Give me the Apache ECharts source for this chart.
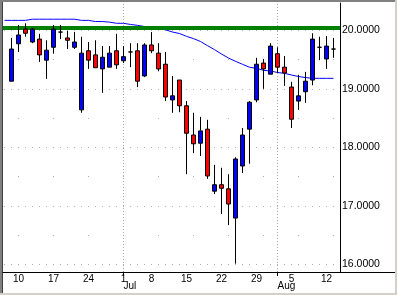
<!DOCTYPE html>
<html>
<head>
<meta charset="utf-8">
<script src="https://cdn.jsdelivr.net/npm/echarts@6/dist/echarts.min.js"></script>
<style>
html,body{margin:0;padding:0;background:#fff;}
#c{width:397px;height:295px;}
</style>
</head>
<body>
<div id="c"></div>
<script>
// Trading days (index 0 = Jun 7)
const dates = ['06-07','06-10','06-11','06-12','06-13','06-14','06-17','06-18','06-19','06-20','06-21',
  '06-24','06-25','06-26','06-27','06-28','07-01','07-02','07-03','07-05','07-08','07-09','07-10','07-11','07-12',
  '07-15','07-16','07-17','07-18','07-19','07-22','07-23','07-24','07-25','07-26','07-29','07-30','07-31','08-01','08-02',
  '08-05','08-06','08-07','08-08','08-09','08-12','08-13'];
const opens  = [19.13,19.77,20.02,19.80,19.85,19.49,19.71,19.97,19.87,19.71,18.64,19.65,19.58,19.34,19.37,19.65,19.48,19.63,19.65,19.22,19.75,19.61,19.42,18.81,19.15,18.71,18.21,18.07,18.31,17.25,17.36,17.29,16.79,17.68,18.31,18.81,19.44,19.25,19.60,19.37,19.03,18.79,18.95,19.15,19.71,19.51,19.68];
const closes = [19.68,19.92,19.95,20.02,19.58,19.66,20.02,19.97,19.83,19.80,19.61,19.49,19.36,19.54,19.61,19.41,19.55,19.63,19.13,19.75,19.65,19.34,18.86,18.88,18.71,18.24,18.06,18.28,17.51,17.36,17.30,17.03,17.80,18.21,18.77,19.42,19.34,19.73,19.37,19.27,18.48,18.88,19.13,19.85,19.71,19.73,19.68];
const lows   = [19.13,19.63,19.89,19.78,19.46,19.17,19.60,19.85,19.68,19.68,18.59,19.34,19.36,18.93,19.37,19.34,19.44,19.37,19.03,19.20,19.61,19.30,18.79,18.59,18.60,17.54,17.90,17.85,17.46,17.20,16.86,16.67,16.01,17.56,17.72,18.77,19.00,19.25,19.27,19.05,18.33,18.64,18.76,19.06,19.49,19.34,19.53];
const highs  = [19.87,20.09,20.12,20.04,19.94,19.83,20.09,20.09,19.99,19.97,19.89,19.80,19.83,19.73,19.73,19.94,19.73,19.78,19.78,19.78,19.97,19.78,19.63,19.22,19.15,18.79,18.59,18.52,18.47,17.70,17.65,17.54,17.83,18.33,18.79,19.53,19.51,19.78,19.71,19.56,19.12,19.24,19.29,19.95,19.89,19.90,19.87];
// Moving average, starting one day before the first candle (index -1)
const maStart = -1;
const maValues = [20.17,20.17,20.17,20.17,20.19,20.19,20.19,20.19,20.19,20.19,20.19,20.17,20.17,20.15,20.15,20.14,20.12,20.12,20.10,20.085,20.065,20.048,20.031,20.009,
  19.971,19.945,19.897,19.858,19.809,19.738,19.670,19.595,19.526,19.470,19.419,19.369,19.350,19.316,19.304,19.279,19.265,19.236,19.210,19.193,19.179,19.179,19.179,19.179];
// Horizontal resistance level
const resistance = 20.04;
// Axis labels
const dayTickIndex  = [1,6,11,16,20,25,30,35,40,45];
const dayTickLabels = ['10','17','24','1','8','15','22','29','5','12'];
const monthTickIndex = [16,38];
const monthLabels = ['Jul','Aug'];
const priceTicks = [16,17,18,19,20];
const halfTicks = [16.5,17.5,18.5,19.5];

const xMin = -1.2143, xMax = 46.929;
const yMin = 15.868, yMax = 20.467;

const chart = echarts.init(document.getElementById('c'), null, {renderer:'canvas'});
const candleData = dates.map((d,i)=>[i, opens[i], closes[i], lows[i], highs[i]]);
const maData = maValues.map((v,i)=>[i+maStart, v]);

const labelFont = {fontFamily:'Liberation Sans, Arial, sans-serif', color:'#000'};
chart.setOption({
  animation:false,
  backgroundColor:'#ffffff',
  grid:{left:3, right:57, top:3, bottom:23, containLabel:false},
  xAxis:[{
    type:'value', min:xMin, max:xMax, position:'bottom',
    axisLine:{show:true, onZero:false, lineStyle:{color:'#000', width:1}},
    axisTick:{show:true, customValues:monthTickIndex, length:4, lineStyle:{color:'#000'}},
    splitLine:{show:false},
    axisLabel:{customValues:dayTickIndex, margin:2, fontSize:10, ...labelFont,
      formatter:(v)=>{const k=dayTickIndex.indexOf(Math.round(v)); return k>=0?dayTickLabels[k]:'';}}
  },{
    type:'value', min:xMin, max:xMax, position:'bottom',
    axisLine:{show:false}, axisTick:{show:false}, splitLine:{show:false},
    axisLabel:{customValues:monthTickIndex, margin:9, fontSize:10, align:'left', ...labelFont,
      formatter:(v)=>{const k=monthTickIndex.indexOf(Math.round(v)); return k>=0?monthLabels[k]:'';}}
  }],
  yAxis:[{
    type:'value', min:yMin, max:yMax, position:'right',
    axisLine:{show:true, onZero:false, lineStyle:{color:'#000', width:1}},
    axisTick:{show:false, customValues:priceTicks},
    splitLine:{show:true, lineStyle:{color:'#b0b0b0', width:1, type:[1,6], dashOffset:6}},
    axisLabel:{customValues:priceTicks, margin:2, fontSize:10.5, ...labelFont,
      formatter:(v)=>v.toFixed(4)}
  },{
    type:'value', min:yMin, max:yMax, position:'right',
    axisLine:{show:false}, axisLabel:{show:false},
    axisTick:{show:false, customValues:halfTicks},
    splitLine:{show:true, lineStyle:{color:'#b0b0b0', width:1, type:[1,34], dashOffset:20}}
  }],
  series:[{
    type:'line', data:maData, z:1, symbol:'none', showSymbol:false,
    lineStyle:{color:'#0000ff', width:1}, silent:true,
    markLine:{silent:true, symbol:['none','none'], z:2, label:{show:false},
      lineStyle:{color:'#008000', width:4, type:'solid'},
      data:[{yAxis:resistance}]}
  },{
    type:'candlestick', data:candleData, z:3, barWidth:4,
    itemStyle:{color:'#0000ff', color0:'#ff0000', borderColor:'#000', borderColor0:'#000', borderColorDoji:'#000', borderWidth:1},
    markLine:{silent:true, symbol:['none','none'], z:1, label:{show:false},
      lineStyle:{color:'#a8a8a8', width:1, type:[1,2]},
      data:monthTickIndex.map(v=>({xAxis:v}))}
  }],
  graphic:[
    {type:'line', shape:{x1:340, y1:272.5, x2:395, y2:272.5}, style:{stroke:'#000', lineWidth:1}, silent:true},
    {type:'rect', shape:{x:0, y:0, width:397, height:2}, style:{fill:'#808080'}, silent:true},
    {type:'rect', shape:{x:0, y:0, width:2, height:295}, style:{fill:'#808080'}, silent:true},
    {type:'rect', shape:{x:2, y:2, width:1, height:293}, style:{fill:'#404040'}, silent:true},
    {type:'rect', shape:{x:395, y:0, width:2, height:295}, style:{fill:'#d4d0c8'}, silent:true},
    {type:'rect', shape:{x:0, y:293, width:397, height:2}, style:{fill:'#d4d0c8'}, silent:true}
  ]
});
</script>
</body>
</html>
